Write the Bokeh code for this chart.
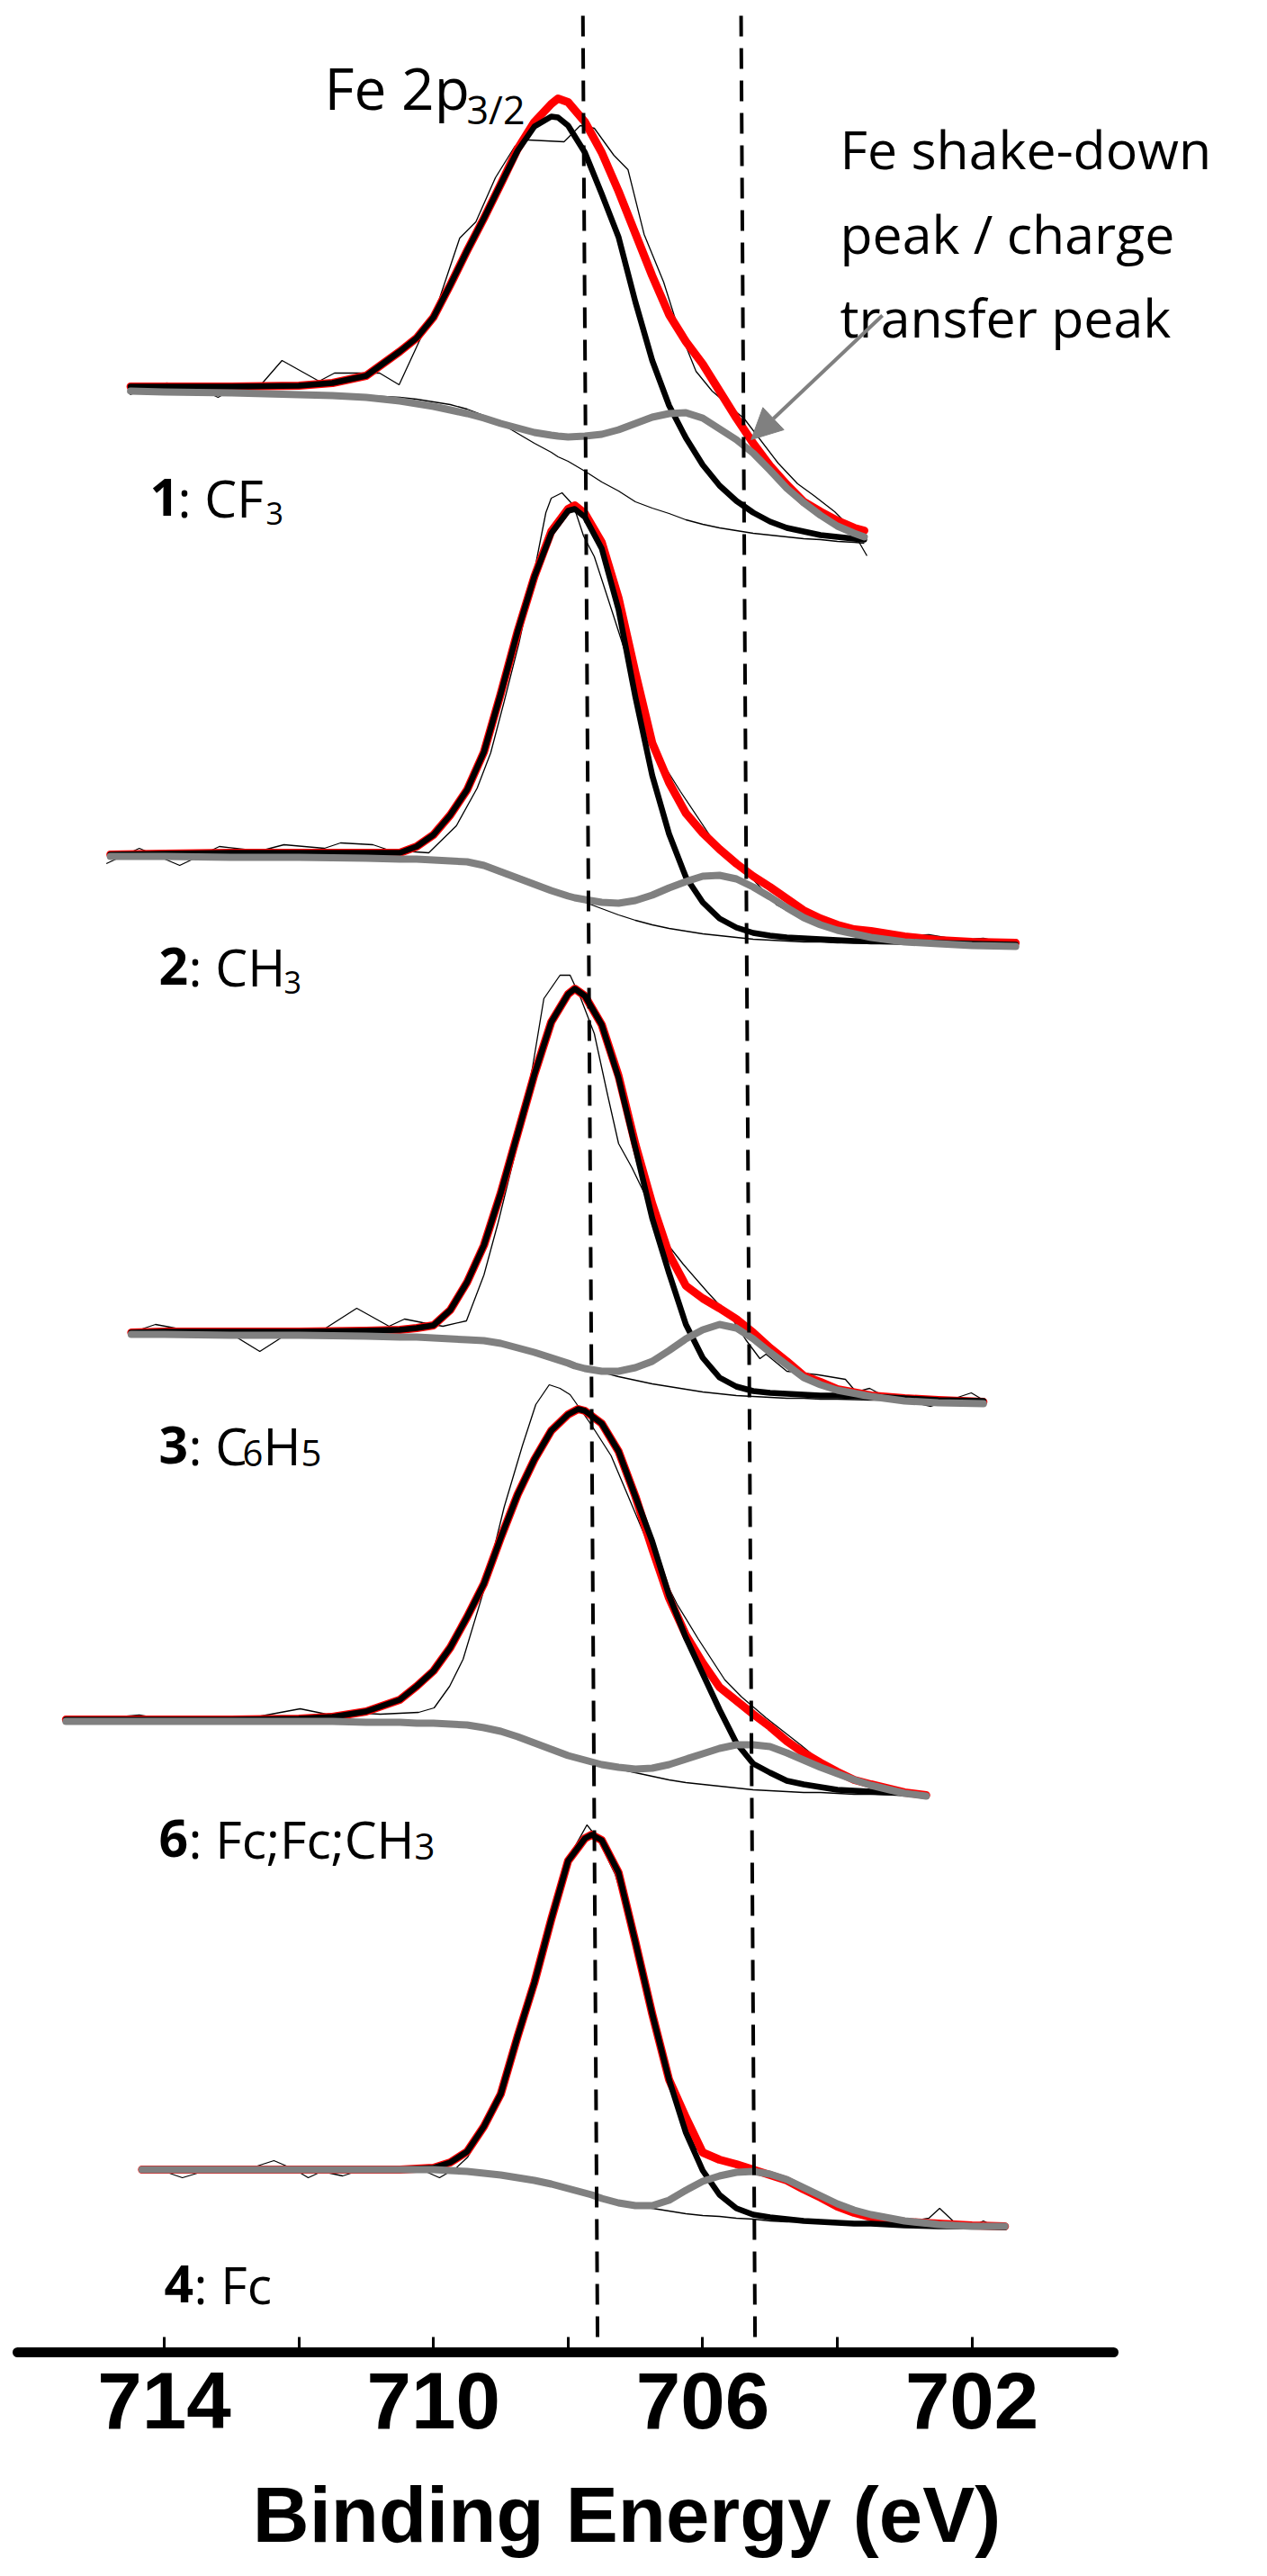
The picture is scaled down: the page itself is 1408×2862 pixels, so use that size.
from bokeh.plotting import figure
from bokeh.models import Range1d, FixedTicker, Label, Arrow, NormalHead
from bokeh.embed import file_html
from bokeh.resources import INLINE

# ---------------- data (binding energy in eV, intensity in arbitrary units) ----------------
# Spectrum 1 : CF3
S1_E = [714.5, 714.0, 713.0, 712.0, 711.5, 711.0, 710.5, 710.25, 710.0, 709.75, 709.5, 709.25, 709.0,
        708.75, 708.5, 708.25, 708.15, 708.0, 707.75, 707.5, 707.25, 707.0, 706.75, 706.5, 706.25,
        706.0, 705.75, 705.5, 705.25, 705.0, 704.75, 704.5, 704.25, 704.0, 703.75, 703.6]
S1_env = [3, 3, 3, 4, 7, 15, 42, 57, 80, 116, 154, 190, 228, 267, 297, 317, 323, 319, 297, 263, 220,
          173, 126, 83, 53, 28, -2, -32, -60, -85, -106, -125, -136, -146, -154, -157]
S1_main = [3, 3, 3, 4, 7, 15, 42, 57, 80, 116, 154, 190, 228, 265, 292, 303, 302, 293, 263, 217, 169,
           97, 32, -18, -54, -84, -107, -124, -137, -147, -154, -158, -162, -164, -166, -167]
S1_sat = [-2, -3, -4, -6, -7, -9, -13, -16, -19, -23, -27, -32, -38, -43, -48, -51, -52, -53, -52, -50,
          -45, -38, -31, -27, -26, -32, -44, -56, -71, -90, -110, -126, -140, -152, -160, -164]
S1_bg = [-2, -3, -4, -5, -6, -7, -9, -11, -14, -17, -22, -29, -38, -49, -60, -70, -75, -80, -91, -103,
         -113, -125, -132, -138, -145, -150, -154, -157, -160, -162, -164, -166, -167, -169, -170, -171]
R1_E = [714.51, 713.97, 713.57, 713.20, 712.93, 712.54, 712.25, 711.70, 711.47, 710.99, 710.80, 710.51,
        710.22, 709.91, 709.61, 709.37, 709.08, 708.79, 708.60, 708.06, 707.82, 707.61, 707.32, 707.11,
        706.87, 706.58, 706.39, 706.10, 705.86, 705.38, 704.88, 704.59, 704.35, 704.04, 703.80, 703.56]
R1 = [-6, 7, 4, -9, 2, 7, 32, 9, 18, 18, 18, 5, 52, 101, 168, 186, 235, 270, 277, 275, 293, 290, 260,
      244, 172, 119, 74, 20, -2, -33, -82, -105, -118, -136, -154, -185]

# Spectrum 2 : CH3
S2_E = [714.8, 714.0, 713.0, 712.0, 711.0, 710.5, 710.25, 710.0, 709.75, 709.5, 709.25, 709.0, 708.75,
        708.5, 708.25, 708.0, 707.9, 707.75, 707.5, 707.25, 707.0, 706.75, 706.5, 706.25, 706.0, 705.75,
        705.5, 705.25, 705.0, 704.75, 704.5, 704.25, 704.0, 703.75, 703.5, 703.0, 702.5, 702.0, 701.35]
S2_env = [0, 1, 2, 2, 2, 2, 9, 22, 44, 72, 114, 179, 248, 309, 359, 384, 388, 379, 347, 285, 202, 124,
          80, 46, 24, 6, -10, -24, -36, -49, -62, -71, -78, -83, -85, -91, -95, -97, -98]
S2_main = [0, 1, 2, 2, 2, 2, 9, 22, 44, 72, 114, 179, 248, 309, 357, 382, 384, 375, 340, 272, 175, 88,
           23, -25, -53, -71, -81, -87, -90, -92, -93, -94, -95, -96, -96, -97, -98, -99, -100]
S2_sat = [-2, -2, -3, -3, -4, -5, -5, -6, -7, -8, -12, -19, -26, -33, -40, -46, -48, -50, -53, -54, -51,
          -45, -37, -30, -24, -23, -27, -36, -47, -59, -70, -78, -84, -88, -92, -97, -99, -101, -102]
S2_bg = [-2, -2, -3, -3, -4, -5, -5, -6, -7, -8, -12, -17, -23, -30, -38, -46, -49, -53, -60, -67, -73,
         -78, -82, -85, -88, -90, -92, -94, -95, -96, -97, -97, -98, -98, -99, -99, -100, -100, -101]
R2_E = [714.86, 714.37, 713.77, 713.18, 712.58, 712.22, 711.62, 711.38, 710.90, 710.66, 710.07, 709.66,
        709.35, 709.15, 708.95, 708.73, 708.53, 708.33, 708.25, 708.09, 707.92, 707.77, 707.61, 707.41,
        707.16, 706.85, 706.59, 706.33, 705.82, 705.42, 704.90, 704.53, 704.03, 703.72, 703.52, 703.04,
        702.64, 702.17, 701.83, 701.35]
R2 = [-10, 7, -12, 9, 4, 11, 7, 13, 11, 5, 2, 32, 74, 113, 170, 235, 304, 380, 396, 402, 388, 354, 331,
      285, 227, 151, 101, 70, 13, -14, -56, -71, -83, -81, -86, -90, -89, -95, -93, -101]

# Spectrum 3 : C6H5
S3_E = [714.49, 714.0, 713.0, 712.0, 711.0, 710.5, 710.25, 710.0, 709.75, 709.5, 709.25, 709.0, 708.75,
        708.5, 708.25, 708.0, 707.9, 707.75, 707.5, 707.25, 707.0, 706.75, 706.5, 706.25, 706.0, 705.75,
        705.5, 705.25, 705.0, 704.75, 704.5, 704.25, 704.0, 703.5, 703.0, 702.5, 701.83]
S3_env = [-1, 0, 0, 0, 1, 2, 4, 7, 24, 55, 96, 154, 220, 286, 344, 375, 381, 373, 341, 284, 208, 142,
          86, 51, 37, 26, 14, -1, -18, -33, -49, -56, -64, -71, -74, -76, -78]
S3_main = [-1, 0, 0, 0, 1, 2, 4, 7, 24, 55, 96, 154, 220, 286, 344, 375, 381, 373, 341, 282, 204, 126,
           65, 8, -29, -51, -61, -66, -68, -69, -70, -71, -71, -72, -74, -76, -77]
S3_sat = [-3, -3, -4, -4, -5, -6, -6, -7, -8, -9, -10, -13, -18, -23, -29, -35, -38, -41, -44, -44, -40,
          -33, -21, -8, 2, 8, 4, -8, -23, -37, -51, -59, -65, -72, -77, -79, -80]
S3_bg = [-3, -3, -4, -4, -5, -6, -6, -7, -8, -9, -10, -13, -18, -23, -29, -35, -38, -41, -45, -50, -54,
         -58, -61, -64, -67, -69, -71, -72, -73, -74, -74, -75, -75, -76, -76, -77, -78]
R3_E = [714.49, 714.13, 713.77, 713.06, 712.58, 712.10, 711.62, 711.14, 710.66, 710.43, 710.16, 709.86,
        709.51, 709.25, 709.04, 708.79, 708.53, 708.36, 708.12, 707.97, 707.81, 707.61, 707.41, 707.25,
        707.05, 706.85, 706.69, 706.49, 706.29, 705.93, 705.56, 705.36, 705.15, 705.06, 704.75, 704.28,
        703.88, 703.72, 703.52, 703.32, 702.61, 702.01, 701.83]
R3 = [-1, 8, 3, 0, -22, 1, 3, 26, 6, 14, 10, 6, 12, 63, 121, 197, 293, 370, 396, 396, 370, 331, 262,
      209, 182, 151, 136, 94, 75, 44, 14, -9, -30, -25, -44, -48, -53, -67, -63, -71, -83, -68, -76]

# Spectrum 6 : Fc;Fc;CH3
S6_E = [715.46, 715.0, 714.0, 713.0, 712.0, 711.5, 711.0, 710.5, 710.25, 710.0, 709.75, 709.5, 709.25,
        709.0, 708.75, 708.5, 708.25, 708.0, 707.85, 707.75, 707.5, 707.25, 707.0, 706.75, 706.5, 706.25,
        706.0, 705.75, 705.5, 705.25, 705.0, 704.75, 704.5, 704.25, 704.0, 703.75, 703.5, 703.0, 702.68]
S6_env = [0, 0, 0, 0, 1, 3, 9, 22, 37, 54, 80, 114, 151, 202, 250, 289, 321, 339, 345, 343, 329, 298,
          248, 190, 135, 94, 63, 36, 21, 6, -8, -24, -37, -48, -58, -67, -72, -81, -84]
S6_main = [0, 0, 0, 0, 1, 3, 9, 22, 37, 54, 80, 114, 151, 202, 250, 289, 321, 339, 345, 343, 329, 298,
           248, 198, 138, 91, 51, 11, -26, -49, -59, -68, -72, -75, -78, -79, -80, -82, -85]
S6_sat = [-2, -2, -2, -2, -2, -2, -3, -3, -4, -4, -5, -6, -9, -13, -19, -26, -33, -40, -43, -45, -50,
          -53, -55, -54, -50, -44, -38, -32, -28, -28, -30, -37, -45, -53, -60, -67, -73, -82, -85]
S6_bg = [-2, -2, -2, -2, -2, -2, -3, -3, -4, -4, -5, -6, -9, -13, -19, -26, -33, -40, -43, -46, -51,
         -55, -59, -63, -67, -70, -72, -74, -76, -78, -79, -80, -81, -81, -82, -83, -83, -84, -85]
R6_E = [715.46, 714.37, 714.13, 713.18, 712.70, 711.98, 711.59, 711.26, 710.79, 710.22, 709.99, 709.76,
        709.56, 709.25, 708.95, 708.68, 708.48, 708.28, 708.12, 707.97, 707.66, 707.36, 707.05, 706.69,
        706.38, 706.07, 705.67, 705.42, 705.06, 704.53, 704.19, 703.77, 703.52, 703.17, 702.68]
R6 = [-2, 5, 2, 0, 2, 12, 6, 8, 6, 8, 13, 37, 67, 144, 236, 304, 350, 372, 368, 361, 328, 293, 238,
      174, 128, 90, 44, 25, 2, -29, -50, -63, -73, -78, -85]

# Spectrum 4 : Fc
S4_E = [714.33, 714.0, 713.0, 712.0, 711.0, 710.5, 710.0, 709.75, 709.5, 709.25, 709.0, 708.75, 708.5,
        708.25, 708.0, 707.75, 707.65, 707.5, 707.25, 707.0, 706.75, 706.5, 706.25, 706.0, 705.75, 705.5,
        705.25, 705.0, 704.75, 704.5, 704.25, 704.0, 703.75, 703.5, 703.0, 702.5, 702.0, 701.51]
S4_env = [0, 0, 0, 0, 0, 0, 2, 8, 20, 48, 84, 148, 208, 278, 343, 368, 372, 366, 330, 253, 173, 100,
          58, 19, 11, 6, 0, -6, -12, -22, -31, -41, -48, -53, -58, -60, -62, -63]
S4_main = [0, 0, 0, 0, 0, 0, 2, 8, 20, 48, 84, 148, 208, 278, 343, 368, 372, 366, 330, 253, 173, 100,
           41, -1, -28, -43, -50, -53, -55, -57, -58, -59, -60, -60, -62, -63, -63, -64]
S4_sat = [0, 0, 0, 0, 0, 0, 0, -1, -2, -4, -6, -9, -12, -16, -21, -26, -28, -32, -37, -40, -40, -34,
          -23, -13, -7, -3, -2, -5, -11, -20, -29, -38, -45, -50, -57, -61, -63, -63]
S4_bg = [0, 0, 0, 0, 0, 0, 0, -1, -2, -4, -6, -9, -12, -16, -21, -27, -29, -32, -37, -40, -43, -46,
         -49, -51, -52, -54, -55, -57, -58, -58, -59, -60, -60, -61, -62, -63, -63, -64]
R4_E = [714.33, 714.0, 713.73, 713.33, 712.66, 712.37, 712.06, 711.86, 711.66, 711.35, 711.06, 710.39,
        710.12, 709.91, 709.66, 709.49, 709.13, 708.84, 708.52, 708.25, 707.98, 707.72, 707.56, 707.30,
        707.06, 706.70, 706.34, 706.10, 705.86, 705.38, 704.76, 704.16, 703.56, 702.96, 702.64, 702.48,
        702.24, 701.97, 701.83, 701.70, 701.51]
R4 = [0, -2, -9, 0, 3, 10, 0, -9, -2, -7, 0, 0, -2, -9, 2, 14, 64, 118, 208, 288, 348, 383, 368, 328,
      268, 154, 64, 23, 14, 3, -11, -36, -52, -58, -54, -43, -60, -62, -57, -62, -63]

# vertical stacking offsets of the five spectra (top to bottom: 1, 2, 3, 6, 4)
OFFSETS = [2181, 1664, 1134, 703, 203]

# reference energies marked by dashed lines (upper end, lower end)
REF_TOP = [707.78, 705.43]
REF_BOTTOM = [707.56, 705.22]

TICKS = [702, 704, 706, 708, 710, 712, 714]

# ---------------- figure ----------------
p = figure(width=1392, height=2846, output_backend="svg", toolbar_location=None,
           x_range=Range1d(716.433, 697.824), y_range=Range1d(0, 2613),
           y_axis_location=None, min_border_left=0, min_border_right=0,
           min_border_top=0, min_border_bottom=233)
p.grid.visible = False
p.outline_line_color = None
p.background_fill_color = "white"
p.border_fill_color = "white"

spectra = [
    (S1_E, S1_env, S1_main, S1_sat, S1_bg, R1_E, R1),
    (S2_E, S2_env, S2_main, S2_sat, S2_bg, R2_E, R2),
    (S3_E, S3_env, S3_main, S3_sat, S3_bg, R3_E, R3),
    (S6_E, S6_env, S6_main, S6_sat, S6_bg, R6_E, R6),
    (S4_E, S4_env, S4_main, S4_sat, S4_bg, R4_E, R4),
]

for (E, env, main, sat, bg, rE, raw), off in zip(spectra, OFFSETS):
    p.line(rE, [v + off for v in raw], line_color="black", line_width=1.3)
    p.line(E, [v + off for v in bg], line_color="black", line_width=1.3)
    p.line(E, [v + off for v in env], line_color="#ff0000", line_width=9,
           line_join="round", line_cap="round")
    p.line(E, [v + off for v in main], line_color="black", line_width=6.5,
           line_join="round", line_cap="round")
    p.line(E, [v + off for v in sat], line_color="#808080", line_width=8,
           line_join="round", line_cap="round")

p.segment(x0=REF_TOP, y0=[2596, 2596], x1=REF_BOTTOM, y1=[-14, -14],
          line_color="black", line_width=4, line_dash="23 13")

# ---------------- axis ----------------
ax = p.xaxis[0]
ax.ticker = FixedTicker(ticks=TICKS)
ax.major_label_overrides = {704: "", 708: "", 712: ""}
ax.bounds = (699.9, 716.18)
ax.axis_line_width = 11
ax.axis_line_cap = "round"
ax.major_tick_in = 17
ax.major_tick_out = 0
ax.major_tick_line_width = 3
ax.minor_tick_line_color = None
ax.major_label_text_font = "Liberation Sans"
ax.major_label_text_font_style = "bold"
ax.major_label_text_font_size = "89px"
ax.major_label_text_color = "black"
ax.major_label_standoff = 22
ax.axis_label = "Binding Energy (eV)"
ax.axis_label_text_font = "Liberation Sans"
ax.axis_label_text_font_style = "bold"
ax.axis_label_text_font_size = "87px"
ax.axis_label_text_color = "black"
ax.axis_label_standoff = 44

# ---------------- annotations ----------------
FONT = "Open Sans"


def add_text(x, y, text, dx=0, dy=0, size=57, style="normal"):
    p.add_layout(Label(x=x, y=y, x_offset=dx, y_offset=dy, text=text, text_font=FONT,
                       text_font_size=f"{size}px", text_font_style=style,
                       text_baseline="alphabetic", text_align="left", text_color="black"))


# sample labels
add_text(714.214, 2061, "1", style="bold")
add_text(714.214, 2061, ": CF", dx=31)
add_text(714.214, 2061, "3", dx=129, dy=-18, size=34)

add_text(714.08, 1540, "2", style="bold")
add_text(714.08, 1540, ": CH", dx=33)
add_text(714.08, 1540, "3", dx=139, dy=-18, size=34)

add_text(714.08, 1008, "3", style="bold")
add_text(714.08, 1008, ": C", dx=33)
add_text(714.08, 1008, "6", dx=93, dy=-9, size=40)
add_text(714.08, 1008, "H", dx=116)
add_text(714.08, 1008, "5", dx=158, dy=-9, size=40)

add_text(714.08, 571, "6", style="bold")
add_text(714.08, 571, ": Fc;Fc;CH", dx=33)
add_text(714.08, 571, "3", dx=284, dy=-9, size=40)

add_text(714.0, 76, "4", style="bold")
add_text(714.0, 76, ": Fc", dx=33)

# peak label
add_text(711.62, 2516, "Fe 2p", size=64)
add_text(711.62, 2516, "3/2", dx=158, dy=-24, size=43)

# shake-down annotation
add_text(703.96, 2449, "Fe shake-down", size=59)
add_text(703.96, 2355, "peak / charge", size=59)
add_text(703.96, 2262, "transfer peak", size=59)

p.add_layout(Arrow(end=NormalHead(size=34, fill_color="#808080", line_color="#808080"),
                   x_start=703.33, y_start=2263, x_end=705.28, y_end=2125,
                   line_color="#808080", line_width=4))

open("out.html", "w").write(file_html(p, INLINE))
